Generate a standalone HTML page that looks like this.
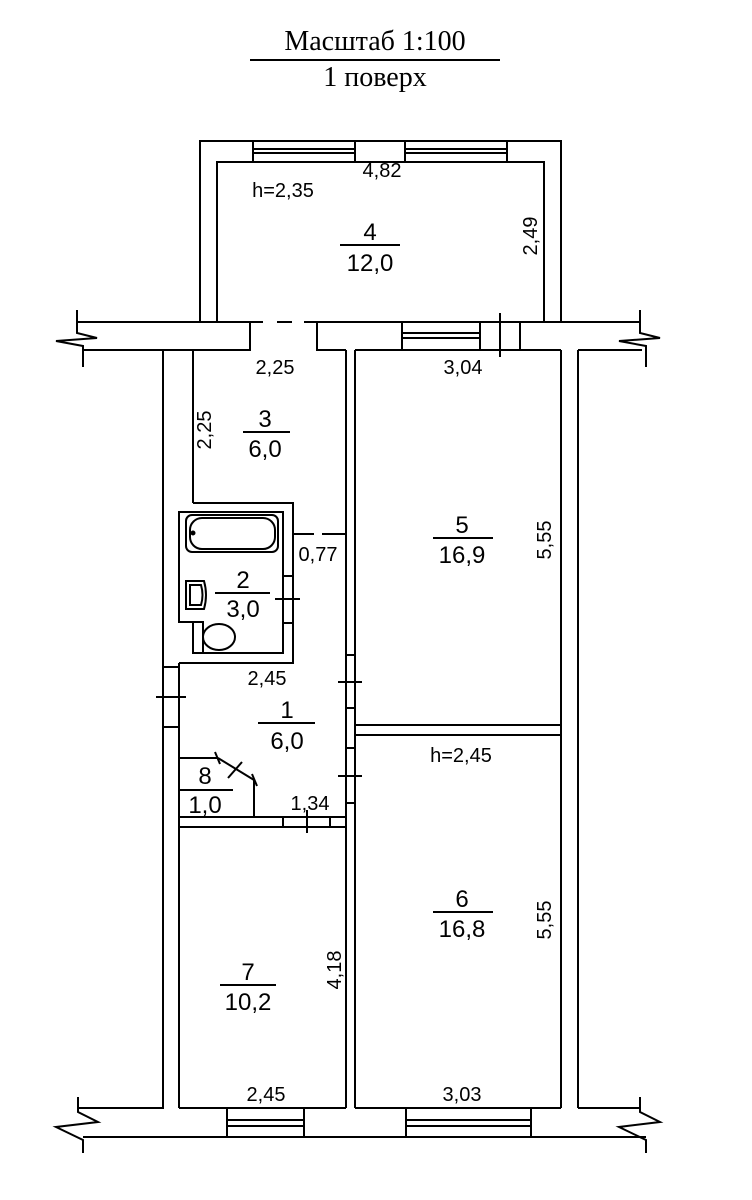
<!DOCTYPE html>
<html><head><meta charset="utf-8"><style>
html,body{margin:0;padding:0;background:#fff;}
svg{display:block}
text{font-family:"Liberation Sans",sans-serif;font-size:20px;fill:#000;text-anchor:middle}
.r{font-size:24px}
.t{font-family:"Liberation Serif",serif;font-size:28px}
</style></head><body>
<svg width="752" height="1200" viewBox="0 0 752 1200" xmlns="http://www.w3.org/2000/svg">
<g stroke="#000" stroke-width="2" fill="none">
<line x1="250" y1="60" x2="500" y2="60"/>
<path d="M200 322 V141 H561 V322"/>
<path d="M217 322 V162 H544 V322"/>
<rect x="253" y="141" width="102" height="21"/>
<rect x="405" y="141" width="102" height="21"/>
<line x1="253" y1="149" x2="355" y2="149"/><line x1="253" y1="153" x2="355" y2="153"/>
<line x1="405" y1="149" x2="507" y2="149"/><line x1="405" y1="153" x2="507" y2="153"/>
<path d="M77 310 V333 L97 338 L56 341 L83 346 V367"/>
<path d="M77 322 H250"/>
<path d="M317 322 H640"/>
<path d="M250 322 V350 H83"/>
<path d="M317 322 V350 H346"/>
<path d="M355 350 H561"/>
<path d="M578 350 H642"/>
<path d="M640 310 V333 L660 338 L619 341 L646 346 V367"/>
<line x1="250" y1="322" x2="263" y2="322"/><line x1="277" y1="322" x2="292" y2="322"/><line x1="304" y1="322" x2="317" y2="322"/>
<rect x="402" y="322" width="78" height="28"/>
<line x1="402" y1="333" x2="480" y2="333"/><line x1="402" y1="338" x2="480" y2="338"/>
<rect x="480" y="322" width="40" height="28"/>
<line x1="500" y1="313" x2="500" y2="357"/>
<line x1="163" y1="350" x2="163" y2="1095"/>
<line x1="578" y1="350" x2="578" y2="1108"/>
<line x1="561" y1="350" x2="561" y2="1108"/>
<line x1="193" y1="350" x2="193" y2="503"/>
<line x1="346" y1="350" x2="346" y2="1108"/>
<line x1="355" y1="350" x2="355" y2="1108"/>
<rect x="346" y="655" width="9" height="53"/>
<line x1="338" y1="682" x2="362" y2="682"/>
<rect x="346" y="748" width="9" height="55"/>
<line x1="338" y1="776" x2="362" y2="776"/>
<line x1="355" y1="725" x2="561" y2="725"/>
<line x1="355" y1="735" x2="561" y2="735"/>
<path d="M193 503 H293 V663 H179"/>
<path d="M179 663 V1108"/>
<path d="M179 512 H283 V653 H193 V622 H179 Z"/>
<rect x="283" y="576" width="10" height="47" fill="#fff"/>
<line x1="275" y1="599" x2="300" y2="599"/>
<rect x="193" y="622" width="10" height="31"/>
<rect x="186" y="515" width="92" height="37" rx="6"/>
<rect x="190" y="518" width="85" height="31" rx="12"/>
<circle cx="193" cy="533" r="1.5" fill="#000"/>
<path d="M186 581 H204 Q208 595 204 609 H186 Z"/>
<path d="M190 585 H201 Q204 595 201 605 H190 Z"/>
<ellipse cx="219" cy="637" rx="16" ry="13"/>
<line x1="293" y1="534" x2="314" y2="534"/><line x1="322" y1="534" x2="346" y2="534"/>
<rect x="163" y="667" width="16" height="60" fill="#fff"/>
<line x1="156" y1="697" x2="186" y2="697"/>
<line x1="179" y1="758" x2="218" y2="758"/>
<line x1="218" y1="758" x2="254" y2="780"/>
<line x1="215" y1="752" x2="220" y2="764"/>
<line x1="252" y1="774" x2="257" y2="786"/>
<line x1="228" y1="778" x2="242" y2="762"/>
<line x1="254" y1="780" x2="254" y2="817"/>
<line x1="179" y1="817" x2="346" y2="817"/>
<line x1="179" y1="827" x2="346" y2="827"/>
<line x1="283" y1="817" x2="283" y2="827"/>
<line x1="330" y1="817" x2="330" y2="827"/>
<line x1="307" y1="810" x2="307" y2="833"/>
<path d="M78 1097 V1112 L98 1122 L56 1127 L83 1140 V1153"/>
<path d="M640 1097 V1112 L660 1122 L619 1127 L646 1140 V1153"/>
<path d="M78 1108 H163 V1095"/>
<path d="M179 1108 H346"/>
<path d="M355 1108 H561"/>
<path d="M578 1108 H640"/>
<line x1="83" y1="1137" x2="646" y2="1137"/>
<rect x="227" y="1108" width="77" height="29"/>
<line x1="227" y1="1120" x2="304" y2="1120"/><line x1="227" y1="1126" x2="304" y2="1126"/>
<rect x="406" y="1108" width="125" height="29"/>
<line x1="406" y1="1120" x2="531" y2="1120"/><line x1="406" y1="1126" x2="531" y2="1126"/>
<line x1="340" y1="245" x2="400" y2="245"/>
<line x1="243" y1="432" x2="290" y2="432"/>
<line x1="433" y1="538" x2="493" y2="538"/>
<line x1="215" y1="593" x2="270" y2="593"/>
<line x1="258" y1="723" x2="315" y2="723"/>
<line x1="180" y1="790" x2="233" y2="790"/>
<line x1="433" y1="912" x2="493" y2="912"/>
<line x1="220" y1="985" x2="276" y2="985"/>
</g>
<text class="t" x="375" y="50">Масштаб 1:100</text>
<text class="t" x="375" y="86">1 поверх</text>
<text x="382" y="177">4,82</text>
<text x="283" y="197">h=2,35</text>
<text x="537" y="236" transform="rotate(-90 537 236)">2,49</text>
<text class="r" x="370" y="240">4</text><text class="r" x="370" y="271">12,0</text>
<text x="275" y="374">2,25</text>
<text x="463" y="374">3,04</text>
<text x="211" y="430" transform="rotate(-90 211 430)">2,25</text>
<text class="r" x="265" y="427">3</text><text class="r" x="265" y="457">6,0</text>
<text class="r" x="462" y="533">5</text><text class="r" x="462" y="563">16,9</text>
<text x="551" y="540" transform="rotate(-90 551 540)">5,55</text>
<text x="318" y="561">0,77</text>
<text class="r" x="243" y="588">2</text><text class="r" x="243" y="617">3,0</text>
<text x="267" y="685">2,45</text>
<text class="r" x="287" y="718">1</text><text class="r" x="287" y="749">6,0</text>
<text x="461" y="762">h=2,45</text>
<text class="r" x="205" y="784">8</text><text class="r" x="205" y="813">1,0</text>
<text x="310" y="810">1,34</text>
<text class="r" x="462" y="907">6</text><text class="r" x="462" y="937">16,8</text>
<text x="551" y="920" transform="rotate(-90 551 920)">5,55</text>
<text class="r" x="248" y="980">7</text><text class="r" x="248" y="1010">10,2</text>
<text x="341" y="970" transform="rotate(-90 341 970)">4,18</text>
<text x="266" y="1101">2,45</text>
<text x="462" y="1101">3,03</text>
</svg>
</body></html>
